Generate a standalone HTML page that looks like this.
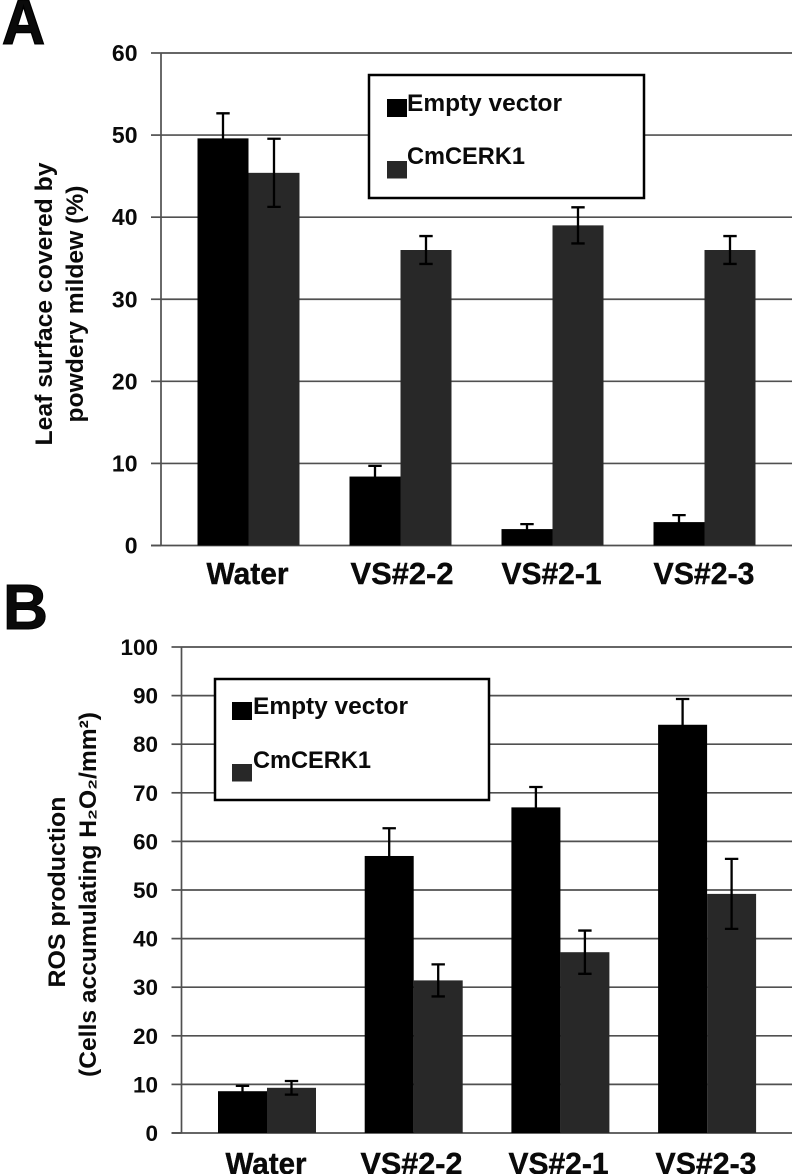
<!DOCTYPE html>
<html>
<head>
<meta charset="utf-8">
<style>
html,body{margin:0;padding:0;background:#fff}
svg{display:block}
text{font-family:"Liberation Sans",sans-serif;font-weight:bold;fill:#0a0a0a}
</style>
</head>
<body>
<svg id="fig" width="793" height="1174" viewBox="0 0 793 1174" xmlns="http://www.w3.org/2000/svg"></svg>
<script>
const categories = ['Water', 'VS#2-2', 'VS#2-1', 'VS#2-3'];
const ticksA = [0, 10, 20, 30, 40, 50, 60];
const emptyA = [49.6, 8.4, 2.0, 2.85];
const emptyErrA = [3.05, 1.3, 0.6, 0.85];
const cerkA = [45.4, 36, 39, 36];
const cerkErrA = [4.15, 1.7, 2.2, 1.7];
const ticksB = [0, 10, 20, 30, 40, 50, 60, 70, 80, 90, 100];
const emptyB = [8.6, 57, 67, 84];
const emptyErrB = [1.1, 5.7, 4.2, 5.3];
const cerkB = [9.3, 31.4, 37.2, 49.2];
const cerkErrB = [1.4, 3.3, 4.45, 7.2];

const NS = 'http://www.w3.org/2000/svg';
const svg = document.getElementById('fig');
function add(tag, attrs, text) {
  const el = document.createElementNS(NS, tag);
  for (const k in attrs) el.setAttribute(k, attrs[k]);
  if (text !== undefined) el.textContent = text;
  svg.appendChild(el);
  return el;
}
function drawChart(c) {
  const y = v => c.y0 + (c.y1 - c.y0) * (v / c.max);
  c.ticks.forEach(t => {
    if (t > 0) {
      const g = add('line', {x1: c.x0, x2: c.x1, y1: y(t), y2: y(t), stroke: '#505050', 'stroke-width': 1.7});
      
      
    }
    const m = add('line', {x1: c.x0 - 10, x2: c.x0, y1: y(t), y2: y(t), stroke: '#505050', 'stroke-width': 1.7});
    
    
    const l = add('text', {x: c.x0 - 23.5, y: y(t) + 8, 'text-anchor': 'end', 'font-size': c.tickFont}, t);
    
    
  });
  const va = add('line', {x1: c.x0, x2: c.x0, y1: c.y1, y2: c.y0, stroke: '#505050', 'stroke-width': 1.7});
  
  
  const ha = add('line', {x1: c.x0 - 10, x2: c.x1, y1: c.y0, y2: c.y0, stroke: '#505050', 'stroke-width': 1.8});
  
  
  categories.forEach((cat, i) => {
    const cx = c.first + c.step * i;
    [[c.s1, c.e1, '#000', -c.bw, 'empty-vector'], [c.s2, c.e2, '#282828', 0, 'cmcerk1']].forEach(s => {
      const v = s[0][i], err = s[1][i];
      const r = add('rect', {x: cx + s[3], y: y(v), width: c.bw, height: c.y0 - y(v), fill: s[2]});
      
      
      const ex = cx + s[3] + c.bw / 2;
      const e = add('path', {d: `M${ex - 6.7} ${y(v + err)}H${ex + 6.7}M${ex} ${y(v + err)}V${y(v - err)}M${ex - 6.7} ${y(v - err)}H${ex + 6.7}`, stroke: '#000', 'stroke-width': 2.3, fill: 'none'});
      
      
    });
    const t = add('text', {x: c.catX[i], y: c.catY, 'text-anchor': 'middle', 'font-size': 31, textLength: c.catLen[i], lengthAdjust: 'spacingAndGlyphs', stroke: '#000', 'stroke-width': 0.4}, cat);
    
    
  });
}
function legend(id, x, y, w, h, sx, s1, s2, tx, t1, t2) {
  const b = add('rect', {x: x, y: y, width: w, height: h, fill: '#fff', stroke: '#000', 'stroke-width': 2.5});
  
  
  const a = add('rect', {x: sx, y: s1, width: 20, height: 18, fill: '#000'});
  
  
  const c = add('rect', {x: sx, y: s2, width: 20, height: 17.5, fill: '#282828'});
  
  
  const l1 = add('text', {x: tx, y: t1, 'font-size': 24, textLength: 155, lengthAdjust: 'spacingAndGlyphs'}, 'Empty vector');
  
  
  const l2 = add('text', {x: tx, y: t2, 'font-size': 24, textLength: 118, lengthAdjust: 'spacingAndGlyphs'}, 'CmCERK1');
  
  
}
drawChart({id: 'chart-a', x0: 161, x1: 792, y0: 545.5, y1: 53, max: 60, ticks: ticksA, tickFont: 23, s1: emptyA, e1: emptyErrA, s2: cerkA, e2: cerkErrA, bw: 51, first: 248.5, step: 152, catY: 584, catX: [247.5, 402, 551.5, 704], catLen: [82, 103, 100, 101]});
drawChart({id: 'chart-b', x0: 181.5, x1: 792, y0: 1133, y1: 647, max: 100, ticks: ticksB, tickFont: 22.5, s1: emptyB, e1: emptyErrB, s2: cerkB, e2: cerkErrB, bw: 49, first: 267, step: 146.7, catY: 1174, catX: [266, 411.5, 558.5, 706], catLen: [81, 102, 100, 101]});
legend('chart-a', 369, 75, 275, 123, 387, 99, 161, 407, 111, 164);
legend('chart-b', 215, 679, 274, 121, 232, 702, 764, 253, 714, 768);

const panelA = add('text', {x: 2, y: 44, 'font-size': 64, textLength: 43, lengthAdjust: 'spacingAndGlyphs', stroke: '#000', 'stroke-width': 1.4}, 'A');


const panelB = add('text', {x: 3, y: 629, 'font-size': 64, textLength: 45, lengthAdjust: 'spacingAndGlyphs', stroke: '#000', 'stroke-width': 1}, 'B');



const ya1 = add('text', {transform: 'translate(52,304) rotate(-90)', 'text-anchor': 'middle', 'font-size': 24, textLength: 283, lengthAdjust: 'spacingAndGlyphs'}, 'Leaf surface covered by');


const ya2 = add('text', {transform: 'translate(83,304) rotate(-90)', 'text-anchor': 'middle', 'font-size': 24, textLength: 237, lengthAdjust: 'spacingAndGlyphs'}, 'powdery mildew (%)');


const yb1 = add('text', {transform: 'translate(65,892) rotate(-90)', 'text-anchor': 'middle', 'font-size': 24, textLength: 191, lengthAdjust: 'spacingAndGlyphs'}, 'ROS production');


const yb2 = add('text', {transform: 'translate(96,894.5) rotate(-90)', 'text-anchor': 'middle', 'font-size': 24, textLength: 365, lengthAdjust: 'spacingAndGlyphs'}, '(Cells accumulating H\u2082O\u2082/mm\u00B2)');


</script>
</body>
</html>
